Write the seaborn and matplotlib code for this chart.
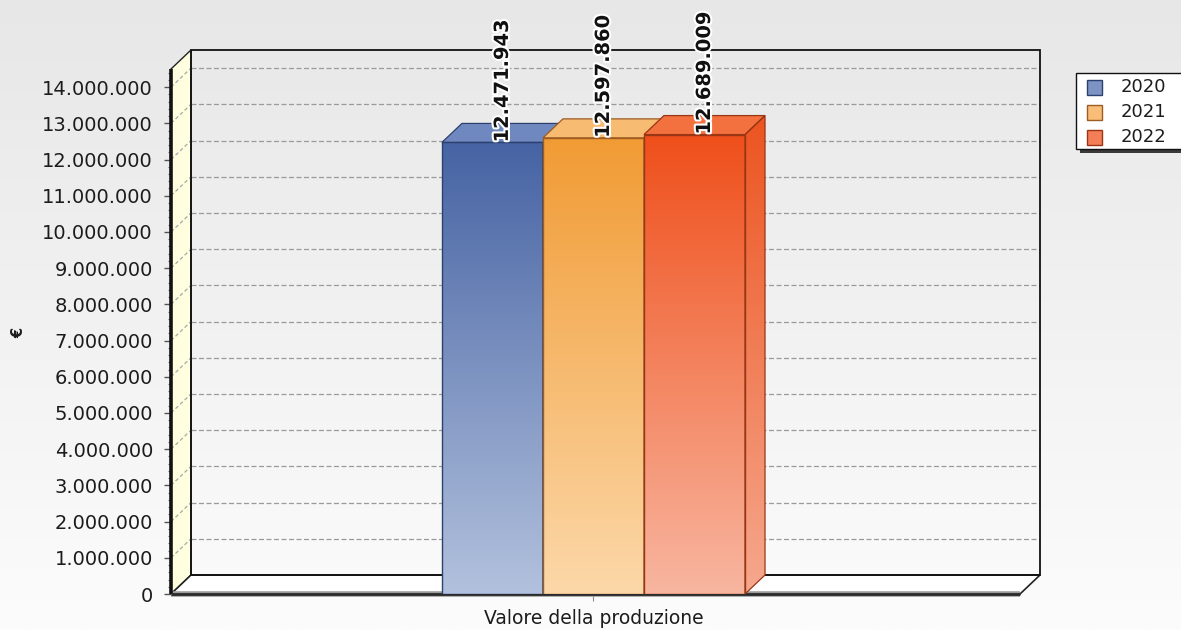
import numpy as np
import pandas as pd
import matplotlib
matplotlib.use("Agg")
import matplotlib.pyplot as plt
import seaborn as sns
from matplotlib.patches import Polygon, Rectangle
from matplotlib.lines import Line2D
from matplotlib.colors import LinearSegmentedColormap
from matplotlib.ticker import FuncFormatter, MultipleLocator
from matplotlib.transforms import IdentityTransform
import matplotlib.patheffects as pe

# ---- data ----
categories = ["Valore della produzione"]
years = ["2020", "2021", "2022"]
values = [12471943, 12597860, 12689009]
y_ticks = list(range(0, 14_000_001, 1_000_000))
y_max = 14_500_000

# ---- styling ----
top_colors = ["#4663a3", "#f19b34", "#ef4f1b"]
bottom_colors = ["#b2c1dd", "#fcd8a9", "#f8b6a0"]
cap_colors = ["#6f88bf", "#f7bb72", "#f3703f"]
side_top = ["#3d5893", "#e58e2c", "#ec5420"]
side_bottom = ["#a2b2d2", "#f8cc98", "#f6a88e"]
edge_colors = ["#2d416e", "#9c5c22", "#9a3614"]
legend_fill = ["#7d93c4", "#f8bd78", "#f47e58"]

df = pd.DataFrame({"categoria": categories * len(years), "anno": years, "valore": values})

sns.set_theme(style="white")
plt.rcParams["font.family"] = ["DejaVu Sans"]

W, H = 1181, 630
fig = plt.figure(figsize=(W / 100, H / 100), dpi=100)

# soft vertical background gradient
bg = fig.add_axes([0, 0, 1, 1], zorder=-10)
bg.imshow(np.linspace(0, 1, 256)[:, None], aspect="auto", extent=[0, 1, 0, 1],
          cmap=LinearSegmentedColormap.from_list("bg", ["#e7e7e7", "#fcfcfc"]))
bg.set_axis_off()

# front plane of the pseudo-3D plot (pixel bounds, rows counted from the top)
px_left, px_right = 171, 1020
px_bottom, px_top = 594, 69
DX, DY = 20, 19  # depth offset in pixels

ax = fig.add_axes([px_left / W, (H - px_bottom) / H,
                   (px_right - px_left) / W, (px_bottom - px_top) / H])
ax.patch.set_alpha(0)

sns.barplot(data=df, x="categoria", y="valore", hue="anno", palette=top_colors,
            width=0.357, saturation=1, legend=False, ax=ax)
bars = sorted([p for p in ax.patches if isinstance(p, Rectangle)], key=lambda p: p.get_x())
ax.set_xlim(-0.4976, 0.5024)
ax.set_ylim(0, y_max)
ax.set_autoscale_on(False)
for s in ax.spines.values():
    s.set_visible(False)

to_px = ax.transData.transform
to_data = ax.transData.inverted().transform


def shift(x, y):
    px, py = to_px((x, y))
    return tuple(to_data((px + DX, py + DY)))


xl, xr = ax.get_xlim()

# back wall grid
for v in y_ticks[1:]:
    b0 = shift(xl, v)
    b1 = shift(xr, v)
    ax.add_line(Line2D([b0[0], b1[0]], [b0[1], b1[1]], color="#9a9a9a", lw=0.9,
                       ls=(0, (4, 2)), zorder=0.5, clip_on=False))

# left wall
lw_poly = [(xl, 0), (xl, y_max), shift(xl, y_max), shift(xl, 0)]
ax.add_patch(Polygon(lw_poly, closed=True, facecolor="#ffffe0", edgecolor="#222222",
                     lw=1.0, zorder=0.6, clip_on=False))
# floor
fl_poly = [(xl, 0), (xr, 0), shift(xr, 0), shift(xl, 0)]
ax.add_patch(Polygon(fl_poly, closed=True, facecolor="white", edgecolor="#222222",
                     lw=1.2, zorder=0.7, clip_on=False))
# back wall outline
bw = [shift(xl, 0), shift(xr, 0), shift(xr, y_max), shift(xl, y_max)]
ax.add_patch(Polygon(bw, closed=True, facecolor="none", edgecolor="#111111",
                     lw=1.3, zorder=0.9, clip_on=False))
# diagonals across the left wall
for v in y_ticks[1:]:
    b0 = shift(xl, v)
    ax.add_line(Line2D([xl, b0[0]], [v, b0[1]], color="#a8a8a8", lw=0.9,
                       ls=(0, (3, 2)), zorder=0.75, clip_on=False))

# front edges: thick axis line and floor edge with a soft shadow
ax.add_line(Line2D([xl, xl], [0, y_max], color="#111111", lw=2.6, zorder=1.0,
                   clip_on=False, solid_capstyle="butt"))
ax.add_line(Line2D([xl, xr], [0, 0], color="#9a9a9a", lw=4.0, zorder=0.95,
                   clip_on=False, solid_capstyle="butt"))
ax.add_line(Line2D([xl, xr], [0, 0], color="#2a2a2a", lw=2.0, zorder=1.0,
                   clip_on=False, solid_capstyle="butt"))

# bars: gradient front, top cap and right side
grad = np.linspace(0, 1, 256)[:, None]
for i, (p, val) in enumerate(zip(bars, values)):
    z = 2 + i * 0.1
    x0 = p.get_x()
    x1 = x0 + p.get_width()
    h = p.get_height()
    cm_front = LinearSegmentedColormap.from_list(f"f{i}", [bottom_colors[i], top_colors[i]])
    ax.imshow(grad, extent=[x0, x1, 0, h], origin="lower", aspect="auto",
              cmap=cm_front, zorder=z, interpolation="bilinear")
    p.set_facecolor("none")
    p.set_edgecolor(edge_colors[i])
    p.set_linewidth(1.0)
    p.set_zorder(z + 0.03)

    # right side face
    side = [(x1, 0), (x1, h), shift(x1, h), shift(x1, 0)]
    sp = Polygon(side, closed=True, facecolor="none", edgecolor=edge_colors[i],
                 lw=0.9, zorder=z + 0.03, clip_on=False)
    ax.add_patch(sp)
    cm_side = LinearSegmentedColormap.from_list(f"s{i}", [side_bottom[i], side_top[i]])
    sx1 = shift(x1, h)[0]
    im = ax.imshow(grad, extent=[x1, sx1, 0, shift(x1, h)[1]], origin="lower",
                   aspect="auto", cmap=cm_side, zorder=z + 0.01)
    im.set_clip_path(sp)

    # top cap
    cap = [(x0, h), (x1, h), shift(x1, h), shift(x0, h)]
    ax.add_patch(Polygon(cap, closed=True, facecolor=cap_colors[i],
                         edgecolor=edge_colors[i], lw=0.9, zorder=z + 0.02,
                         clip_on=False))

    # value label
    cx = (x0 + x1) / 2
    lx = (cx + shift(cx, h)[0]) / 2
    ax.text(lx, h, f"{val:,}".replace(",", "."), rotation=90, ha="center",
            va="bottom", fontsize=14, fontweight="bold", color="#111111",
            zorder=6, clip_on=False,
            path_effects=[pe.withStroke(linewidth=3, foreground="white")])

# axes ticks and labels
ax.set_yticks(y_ticks)
ax.yaxis.set_major_formatter(FuncFormatter(lambda v, _: f"{int(v):,}".replace(",", ".")))
ax.yaxis.set_minor_locator(MultipleLocator(200_000))
ax.tick_params(axis="y", which="major", left=True, direction="out", length=5,
               width=1, color="#555555", pad=8, labelsize=14, labelcolor="#1c1c1c")
ax.tick_params(axis="y", which="minor", left=True, direction="out", length=2.5,
               width=0.8, color="#777777")
ax.tick_params(axis="x", bottom=True, direction="out", length=5, width=0.8,
               color="#888888", pad=6, labelsize=13.5, labelcolor="#1c1c1c")
ax.set_xlabel("")
ax.set_ylabel("")
ax.grid(False)

fig.text(19 / W, 1 - 333 / H, "€", rotation=90, ha="center", va="center",
         fontsize=10.5, fontweight="bold", color="#1c1c1c")

# legend box (pixel coordinates, rows from the top)
ident = IdentityTransform()


def box(xp, yp, wp, hp, **kw):
    return Rectangle((xp, H - yp - hp), wp, hp, transform=ident, **kw)


fig.patches.append(box(1080, 77, 120, 76, facecolor="#3a3a3a", edgecolor="none",
                       zorder=20, figure=fig))
fig.patches.append(box(1076, 73, 120, 76, facecolor="white", edgecolor="#111111",
                       lw=1.0, zorder=21, figure=fig))
for k, (yr, fc, ec) in enumerate(zip(years, legend_fill, edge_colors)):
    yc = 87 + 25 * k
    fig.patches.append(box(1087, yc - 7, 15, 15, facecolor=fc, edgecolor=ec,
                           lw=1.0, zorder=22, figure=fig))
    fig.text(1121 / W, 1 - yc / H, yr, ha="left", va="center", fontsize=13,
             color="#1c1c1c", zorder=23)

fig.savefig("out.png", dpi=100)
